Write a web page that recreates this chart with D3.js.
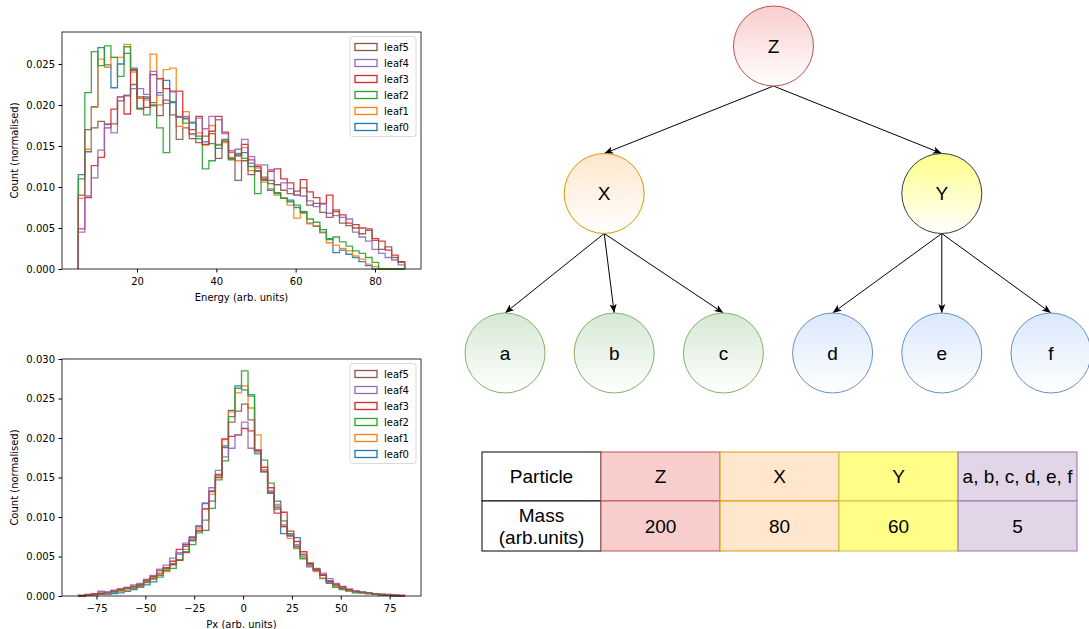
<!DOCTYPE html>
<html>
<head>
<meta charset="utf-8">
<script src="https://cdn.jsdelivr.net/npm/d3@7"></script>
<style>
  body { margin: 0; background: #fff; }
  .mpl text { font-family: "DejaVu Sans", sans-serif; fill: #000; }
  .drawio text { font-family: "Liberation Sans", Arial, sans-serif; fill: #000; }
</style>
</head>
<body>
<svg id="fig" width="1089" height="629"></svg>
<script>
// histogram heights, normalised counts x 1e-3, 50 bins each
const leafNames = ["leaf0", "leaf1", "leaf2", "leaf3", "leaf4", "leaf5"];
const leafColors = ["#1f77b4", "#ff7f0e", "#2ca02c", "#d62728", "#9467bd", "#8c564b"];

const energyRange = [5.2, 87.5];
const energyLeaf0 = [11.5, 14.3, 19.8, 27.0, 24.9, 22.1, 25.0, 26.3, 24.5, 20.8, 21.0, 20.3, 21.5, 23.0, 20.3, 18.5, 18.3, 17.8, 16.2, 15.5, 15.3, 14.7, 15.6, 13.4, 13.9, 14.2, 12.9, 11.9, 10.9, 9.6, 9.3, 8.6, 8.4, 7.5, 7.0, 5.6, 5.2, 4.8, 3.7, 2.0, 2.3, 1.8, 1.4, 0.9, 0.4, 0, 0, 0, 0, 0];
const energyLeaf1 = [8.6, 14.6, 19.7, 25.6, 24.6, 25.8, 25.8, 27.4, 24.0, 20.8, 20.6, 26.2, 20.0, 24.3, 24.5, 17.4, 19.2, 16.4, 16.6, 15.1, 17.5, 15.2, 15.4, 13.6, 13.2, 14.8, 12.0, 12.3, 10.6, 9.8, 9.0, 8.7, 7.8, 6.2, 6.8, 5.5, 5.3, 4.4, 3.2, 2.9, 2.5, 2.2, 1.6, 1.2, 0.6, 0.3, 0, 0, 0, 0];
const energyLeaf2 = [11.0, 21.5, 26.5, 24.8, 27.2, 25.8, 23.5, 27.1, 24.2, 19.6, 18.8, 20.0, 17.2, 14.2, 20.4, 18.6, 17.8, 17.9, 15.9, 12.2, 13.2, 15.1, 15.6, 13.3, 14.1, 13.5, 12.5, 9.2, 10.8, 10.4, 9.2, 8.6, 8.2, 7.8, 6.9, 6.1, 5.7, 4.5, 3.6, 3.9, 3.3, 2.8, 2.2, 1.9, 1.4, 0.8, 0, 0, 0, 0];
const energyLeaf3 = [4.9, 8.7, 12.6, 13.6, 17.2, 19.5, 21.0, 18.9, 24.3, 21.0, 19.7, 23.7, 23.2, 22.0, 21.7, 21.7, 18.4, 17.0, 18.6, 15.2, 16.8, 18.6, 16.7, 14.4, 13.8, 15.2, 13.3, 12.5, 11.0, 11.9, 12.2, 11.0, 10.5, 9.0, 10.9, 9.4, 8.7, 8.0, 9.0, 7.0, 6.6, 5.6, 5.4, 5.0, 4.9, 3.7, 3.4, 2.3, 1.7, 0.9];
const energyLeaf4 = [4.5, 8.9, 11.1, 14.5, 17.6, 16.6, 21.0, 21.2, 22.0, 22.0, 21.3, 24.1, 21.2, 20.2, 21.6, 18.5, 18.6, 16.5, 18.4, 17.1, 18.6, 18.2, 16.5, 14.2, 14.6, 15.8, 13.7, 12.7, 12.7, 12.1, 10.3, 10.5, 9.8, 9.0, 8.9, 8.3, 7.6, 7.9, 6.8, 6.5, 6.3, 6.1, 4.5, 3.9, 3.4, 2.4, 1.9, 1.4, 1.1, 0.5];
const energyLeaf5 = [9.0, 17.0, 17.2, 18.0, 17.7, 17.7, 20.5, 21.1, 22.5, 19.5, 20.8, 19.9, 18.7, 20.6, 18.8, 15.8, 17.2, 15.9, 15.4, 16.2, 16.5, 13.5, 15.8, 13.5, 10.8, 13.2, 11.5, 12.0, 11.2, 10.8, 10.3, 9.6, 9.2, 9.5, 9.9, 7.8, 8.0, 6.9, 6.3, 7.2, 5.6, 5.3, 5.0, 4.3, 4.7, 3.5, 2.4, 2.7, 1.4, 0.8];

const pxRange = [-84.3, 82.7];
const pxLeaf0 = [0.0, 0.1, 0.1, 0.2, 0.2, 0.3, 0.4, 0.6, 0.8, 1.1, 1.4, 1.8, 2.6, 3.2, 4.1, 5.3, 6.3, 7.2, 8.8, 11.7, 13.2, 15.3, 18.8, 23.5, 26.6, 26.1, 25.3, 18.4, 15.8, 13.1, 12.0, 7.9, 7.6, 7.4, 4.8, 3.8, 3.2, 2.2, 1.6, 1.3, 0.8, 0.6, 0.4, 0.4, 0.3, 0.2, 0.1, 0.1, 0.0, 0.0];
const pxLeaf1 = [0.0, 0.1, 0.1, 0.3, 0.3, 0.5, 0.6, 0.7, 1.0, 1.2, 1.8, 2.1, 2.7, 3.1, 3.9, 4.5, 5.9, 7.0, 8.6, 11.1, 12.9, 15.2, 19.8, 23.3, 25.7, 26.6, 23.8, 20.4, 16.0, 13.2, 11.6, 8.8, 7.3, 6.0, 5.0, 3.9, 3.1, 2.3, 1.9, 1.3, 0.9, 0.6, 0.5, 0.4, 0.3, 0.2, 0.2, 0.1, 0.1, 0.0];
const pxLeaf2 = [0.0, 0.1, 0.2, 0.3, 0.4, 0.5, 0.7, 0.9, 1.0, 1.3, 1.7, 2.2, 2.4, 3.3, 3.5, 4.6, 5.6, 6.5, 8.0, 9.6, 11.1, 14.7, 17.1, 22.7, 26.3, 28.5, 25.5, 18.0, 17.2, 14.3, 11.2, 9.5, 7.9, 6.1, 4.7, 4.0, 3.4, 2.6, 1.8, 1.1, 0.9, 0.7, 0.5, 0.4, 0.3, 0.2, 0.1, 0.1, 0.0, 0.0];
const pxLeaf3 = [0.1, 0.2, 0.3, 0.3, 0.5, 0.7, 0.9, 1.1, 1.2, 1.5, 2.1, 2.5, 3.2, 3.6, 4.4, 5.9, 6.5, 7.4, 8.3, 11.0, 13.3, 15.0, 19.9, 20.2, 20.4, 21.2, 20.9, 18.5, 16.3, 13.7, 10.5, 10.6, 8.2, 6.9, 5.6, 4.1, 3.3, 2.6, 1.9, 1.5, 1.2, 0.8, 0.6, 0.5, 0.4, 0.3, 0.2, 0.2, 0.1, 0.1];
const pxLeaf4 = [0.0, 0.1, 0.2, 0.6, 0.4, 0.7, 0.9, 1.0, 1.4, 1.6, 2.0, 2.6, 3.4, 3.9, 4.8, 5.5, 6.7, 7.5, 8.9, 11.8, 13.7, 15.9, 17.6, 18.7, 20.4, 22.0, 18.7, 18.2, 15.7, 13.3, 11.4, 9.0, 7.8, 6.5, 5.3, 3.7, 3.5, 2.9, 2.2, 1.6, 1.1, 0.9, 0.6, 0.5, 0.4, 0.3, 0.2, 0.1, 0.1, 0.0];
const pxLeaf5 = [0.0, 0.1, 0.2, 0.4, 0.5, 0.6, 0.8, 1.0, 1.2, 1.4, 1.9, 2.3, 2.9, 3.5, 4.0, 4.5, 5.5, 7.0, 8.2, 8.3, 12.0, 15.4, 19.0, 22.0, 23.4, 24.3, 22.3, 18.4, 15.7, 13.0, 11.0, 8.8, 7.6, 6.3, 5.2, 4.2, 3.4, 2.7, 1.8, 1.4, 1.0, 0.8, 0.6, 0.5, 0.4, 0.3, 0.2, 0.1, 0.1, 0.0];

const energyTicksX = [20, 40, 60, 80];
const energyTicksY = [0, 5, 10, 15, 20, 25];
const pxTicksX = [-75, -50, -25, 0, 25, 50, 75];
const pxTicksY = [0, 5, 10, 15, 20, 25, 30];

// decay tree and the mass table
const decayTree = { name: "Z", children: [
  { name: "X", children: [{ name: "a" }, { name: "b" }, { name: "c" }] },
  { name: "Y", children: [{ name: "d" }, { name: "e" }, { name: "f" }] }
]};
const particleNames = ["Z", "X", "Y", "a, b, c, d, e, f"];
const particleMasses = ["200", "80", "60", "5"];

const svg = d3.select("#fig");

function drawHist(opts) {
  const g = svg.append("g").attr("class", "mpl");
  const x = d3.scaleLinear().domain(opts.xDomain).range([62, 421]);
  const y = d3.scaleLinear().domain(opts.yDomain).range([opts.bottom, opts.top]);
  const nb = opts.series[0].length;
  const edges = d3.range(nb + 1).map(i => opts.range[0] + i * (opts.range[1] - opts.range[0]) / nb);

  const line = d3.line().x(d => x(d[0])).y(d => y(d[1]));
  opts.series.forEach((vals, k) => {
    const pts = [[edges[0], 0]];
    vals.forEach((v, i) => { pts.push([edges[i], v]); pts.push([edges[i + 1], v]); });
    pts.push([edges[nb], 0]);
    g.append("path").attr("d", line(pts))
      .attr("fill", "none").attr("stroke", leafColors[k])
      .attr("stroke-width", 1.3).attr("stroke-opacity", 0.9)
      .attr("stroke-linejoin", "miter");
  });

  // frame
  g.append("rect").attr("x", 62).attr("y", opts.top)
    .attr("width", 359).attr("height", opts.bottom - opts.top)
    .attr("fill", "none").attr("stroke", "#000").attr("stroke-width", 0.8);

  g.append("g").attr("transform", "translate(0," + opts.bottom + ")")
    .call(d3.axisBottom(x).tickValues(opts.xTicks).tickSize(3.5).tickPadding(5).tickSizeOuter(0))
    .call(a => a.select(".domain").remove())
    .call(a => a.selectAll("text").attr("font-size", 10).attr("font-family", "DejaVu Sans"));
  g.append("g").attr("transform", "translate(62,0)")
    .call(d3.axisLeft(y).tickValues(opts.yTicks).tickSize(3.5).tickPadding(3.5).tickSizeOuter(0)
      .tickFormat(v => (v / 1000).toFixed(3)))
    .call(a => a.select(".domain").remove())
    .call(a => a.selectAll("text").attr("font-size", 10).attr("font-family", "DejaVu Sans"));

  g.append("text").attr("x", 241.5).attr("y", opts.bottom + 32)
    .attr("text-anchor", "middle").attr("font-size", 10).text(opts.xLabel);
  g.append("text")
    .attr("transform", "translate(18," + (opts.top + opts.bottom) / 2 + ") rotate(-90)")
    .attr("text-anchor", "middle").attr("font-size", 10).text("Count (normalised)");

  // legend, reversed like matplotlib does for step histograms
  const lg = g.append("g").attr("transform", "translate(350," + (opts.top + 4.5) + ")");
  lg.append("rect").attr("width", 66).attr("height", 100).attr("rx", 2.5)
    .attr("fill", "#fff").attr("fill-opacity", 0.8).attr("stroke", "#d0d0d0").attr("stroke-width", 0.8);
  leafNames.slice().reverse().forEach((name, i) => {
    const cy = 10.5 + i * 16;
    lg.append("rect").attr("x", 5).attr("y", cy - 3.5).attr("width", 22).attr("height", 7)
      .attr("fill", "none").attr("stroke", leafColors[leafNames.length - 1 - i]).attr("stroke-width", 1.3);
    lg.append("text").attr("x", 34).attr("y", cy + 3.6).attr("font-size", 10).text(name);
  });
}

drawHist({
  series: [energyLeaf0, energyLeaf1, energyLeaf2, energyLeaf3, energyLeaf4, energyLeaf5],
  range: energyRange, xDomain: [1.09, 91.6], yDomain: [0, 28.9],
  top: 32, bottom: 269, xTicks: energyTicksX, yTicks: energyTicksY,
  xLabel: "Energy (arb. units)"
});
drawHist({
  series: [pxLeaf0, pxLeaf1, pxLeaf2, pxLeaf3, pxLeaf4, pxLeaf5],
  range: pxRange, xDomain: [-92.65, 91.05], yDomain: [0, 30],
  top: 359, bottom: 596, xTicks: pxTicksX, yTicks: pxTicksY,
  xLabel: "Px (arb. units)"
});

// ---- tree diagram ----
const nodeStyle = {
  Z: { fill: "#f8cecc", stroke: "#b85450" },
  X: { fill: "#ffe6cc", stroke: "#d79b00" },
  Y: { fill: "#ffff88", stroke: "#36393d" },
  leafX: { fill: "#d5e8d4", stroke: "#82b366" },
  leafY: { fill: "#dae8fc", stroke: "#6c8ebf" }
};
const styleOf = d => nodeStyle[d.data.name] || (d.parent.data.name === "X" ? nodeStyle.leafX : nodeStyle.leafY);

const root = d3.hierarchy(decayTree);
d3.tree().nodeSize([109.2, 150]).separation(() => 1)(root);
const r = 40;
const levelY = [46, 193.5, 353];
const tg = svg.append("g").attr("class", "drawio");
const defs = svg.append("defs");
defs.append("marker").attr("id", "arrow").attr("viewBox", "0 -5 10 10")
  .attr("refX", 10).attr("refY", 0).attr("markerUnits", "userSpaceOnUse")
  .attr("markerWidth", 9).attr("markerHeight", 9).attr("orient", "auto")
  .append("path").attr("d", "M0,-4L10,0L0,4L2.5,0Z").attr("fill", "#000");

// tree layout -> page coordinates, X sits a bit left of its middle child in the reference
const px = d => 778 + d.x - (d.data.name === "X" ? 10 : 0) + (d.depth === 0 ? -4.5 : 0);
const py = d => levelY[d.depth];
root.descendants().forEach(d => {
  const grad = defs.append("linearGradient").attr("id", "g" + d.data.name)
    .attr("x1", 0).attr("y1", 0).attr("x2", 0).attr("y2", 1);
  grad.append("stop").attr("offset", 0).attr("stop-color", styleOf(d).fill);
  grad.append("stop").attr("offset", 1).attr("stop-color", "#fff");
});

tg.selectAll("line.link").data(root.links()).join("line").attr("class", "link")
  .attr("x1", d => px(d.source)).attr("y1", d => py(d.source) + r)
  .attr("x2", d => px(d.target)).attr("y2", d => py(d.target) - r)
  .attr("stroke", "#000").attr("stroke-width", 1).attr("marker-end", "url(#arrow)");

const nodes = tg.selectAll("g.node").data(root.descendants()).join("g")
  .attr("transform", d => "translate(" + px(d) + "," + py(d) + ")");
nodes.append("circle").attr("r", r)
  .attr("fill", d => "url(#g" + d.data.name + ")").attr("stroke", d => styleOf(d).stroke);
nodes.append("text").attr("text-anchor", "middle").attr("dy", "0.35em")
  .attr("font-size", 19).text(d => d.data.name);

// ---- mass table ----
const colStyle = [
  { fill: "#ffffff", stroke: "#000000" },
  { fill: "#f8cecc", stroke: "#b85450" },
  { fill: "#ffe6cc", stroke: "#d79b00" },
  { fill: "#ffff88", stroke: "#d6b656" },
  { fill: "#e1d5e7", stroke: "#9673a6" }
];
const cols = d3.scaleBand().domain(d3.range(5)).range([482, 1077]);
const rows = [452, 501, 551];
const tab = svg.append("g").attr("class", "drawio");
d3.range(5).forEach(c => {
  for (let rr = 0; rr < 2; rr++) {
    tab.append("rect").attr("x", cols(c)).attr("y", rows[rr])
      .attr("width", cols.bandwidth()).attr("height", rows[rr + 1] - rows[rr])
      .attr("fill", colStyle[c].fill).attr("stroke", colStyle[c].stroke).attr("stroke-width", 1);
  }
});
const midX = c => cols(c) + cols.bandwidth() / 2;
tab.append("text").attr("x", midX(0)).attr("y", 476).attr("dy", "0.35em")
  .attr("text-anchor", "middle").attr("font-size", 19).text("Particle");
tab.append("text").attr("x", midX(0)).attr("y", 515).attr("dy", "0.35em")
  .attr("text-anchor", "middle").attr("font-size", 19).text("Mass");
tab.append("text").attr("x", midX(0)).attr("y", 537).attr("dy", "0.35em")
  .attr("text-anchor", "middle").attr("font-size", 19).text("(arb.units)");
particleNames.forEach((n, i) => {
  tab.append("text").attr("x", midX(i + 1)).attr("y", 476).attr("dy", "0.35em")
    .attr("text-anchor", "middle").attr("font-size", 19).text(n);
  tab.append("text").attr("x", midX(i + 1)).attr("y", 526).attr("dy", "0.35em")
    .attr("text-anchor", "middle").attr("font-size", 19).text(particleMasses[i]);
});
</script>
</body>
</html>
